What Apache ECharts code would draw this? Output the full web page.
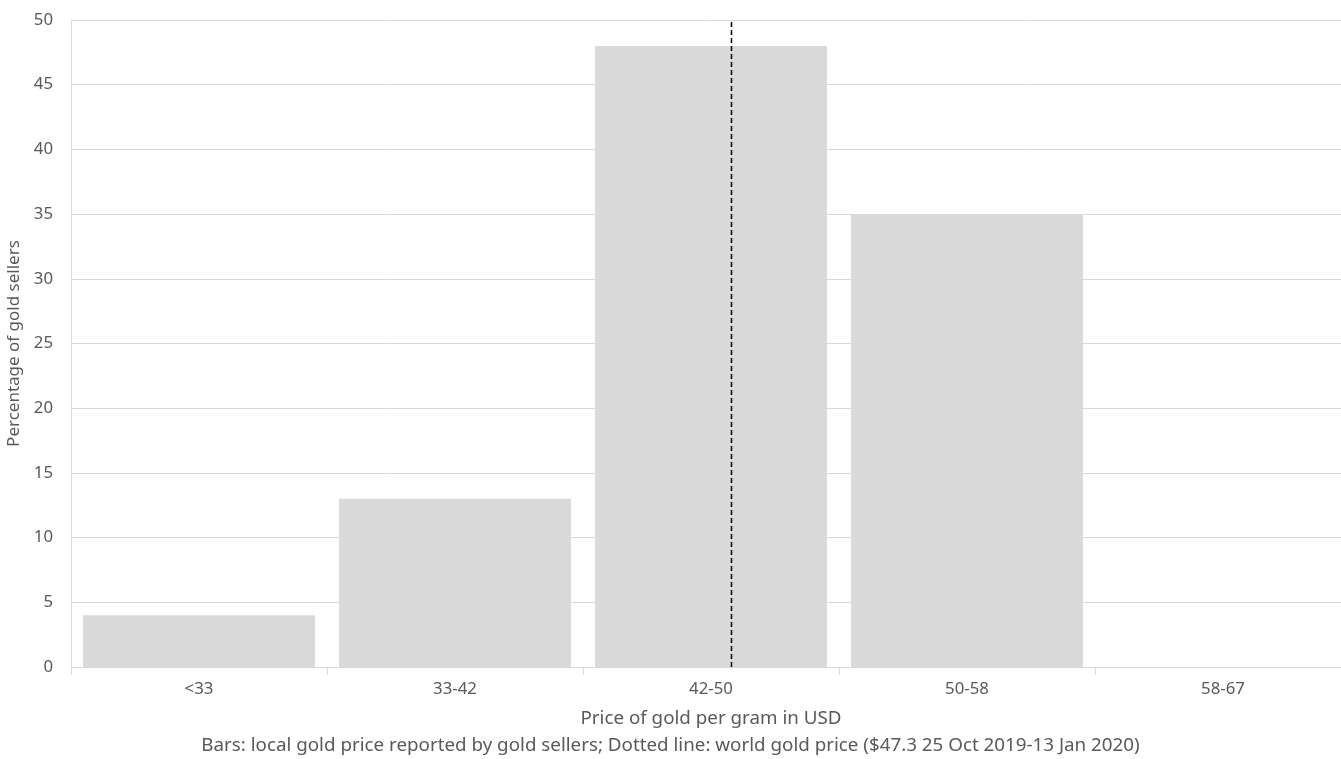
<!DOCTYPE html>
<html>
<head>
<meta charset="utf-8">
<script src="https://cdn.jsdelivr.net/npm/echarts@6/dist/echarts.min.js"></script>
<style>html,body{margin:0;padding:0;background:#fff;}#c{width:1341px;height:759px;}</style>
</head>
<body>
<div id="c"></div>
<script>
const categories = ['<33', '33-42', '42-50', '50-58', '58-67'];
const sellerPercent = [4, 13, 48, 35, 0];
const yTicks = { min: 0, max: 50, interval: 5 };
const worldPricePos = 2.58; // position of dashed line in category units (0..5)
const xAxisTitle = 'Price of gold per gram in USD';
const yAxisTitle = 'Percentage of gold sellers';
const footnote = 'Bars: local gold price reported by gold sellers; Dotted line: world gold price ($47.3 25 Oct 2019-13 Jan 2020)';

const font = 'Noto Sans';
const chart = echarts.init(document.getElementById('c'), null, { renderer: 'canvas' });
chart.setOption({
  animation: false,
  backgroundColor: '#fff',
  textStyle: { fontFamily: font },
  title: {
    text: footnote,
    left: 'center',
    bottom: -1,
    textStyle: { fontFamily: font, fontSize: 18.8, fontWeight: 'normal', color: '#595959' }
  },
  grid: { left: 71, top: 20, width: 1280, height: 647, containLabel: false, outerBoundsMode: 'none' },
  xAxis: [
    {
      type: 'category',
      data: categories,
      name: xAxisTitle,
      nameLocation: 'middle',
      nameGap: 42,
      nameTextStyle: { fontSize: 18.8, color: '#595959', fontFamily: font },
      axisLine: { lineStyle: { color: '#d9d9d9', width: 1 } },
      axisTick: { show: true, length: 8, lineStyle: { color: '#d9d9d9' } },
      axisLabel: { fontSize: 16.8, color: '#595959', margin: 14, fontFamily: font },
      splitLine: { show: false }
    },
    {
      type: 'value',
      min: 0, max: 5,
      show: false
    }
  ],
  yAxis: {
    type: 'value',
    min: yTicks.min, max: yTicks.max, interval: yTicks.interval,
    name: yAxisTitle,
    nameLocation: 'middle',
    nameGap: 44,
    nameTextStyle: { fontSize: 17, color: '#595959', fontFamily: font },
    axisLine: { show: true, lineStyle: { color: '#d9d9d9', width: 1 } },
    axisTick: { show: false },
    axisLabel: { fontSize: 16.8, color: '#595959', margin: 18, fontFamily: font },
    splitLine: { lineStyle: { color: '#d9d9d9', width: 1 } }
  },
  series: [
    {
      type: 'bar',
      data: sellerPercent,
      barCategoryGap: '9.4%',
      itemStyle: { color: '#d9d9d9' },
      silent: true
    },
    {
      type: 'line',
      xAxisIndex: 1,
      data: [[worldPricePos, yTicks.min], [worldPricePos, yTicks.max]],
      symbol: 'none',
      lineStyle: { color: '#000', width: 1.5, type: [5, 3] },
      silent: true,
      z: 5
    }
  ]
});
</script>
</body>
</html>
